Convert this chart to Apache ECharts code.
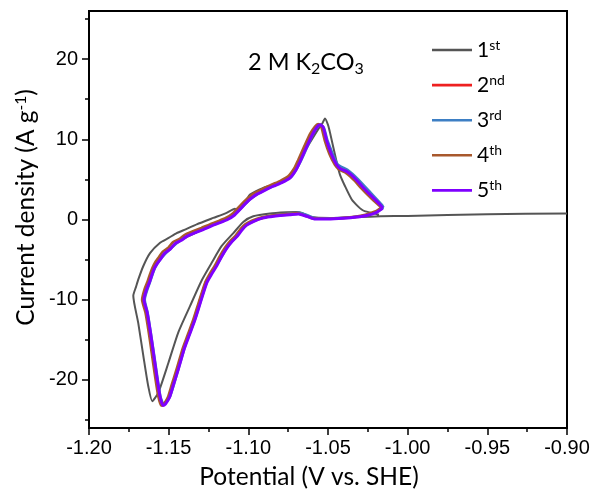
<!DOCTYPE html>
<html>
<head>
<meta charset="utf-8">
<script src="https://cdn.jsdelivr.net/npm/echarts@6/dist/echarts.min.js"></script>
<style>
  html, body { margin: 0; padding: 0; background: #fff; }
  #chart { width: 597px; height: 495px; }
</style>
</head>
<body>
<div id="chart"></div>
<script>
// Cyclic voltammograms in 2 M K2CO3: [potential (V vs. SHE), current density (A/g)]
const cycleNames = ['1st', '2nd', '3rd', '4th', '5th'];
const cycleColors = ['#555555', '#ee2020', '#3d7fc4', '#a8582c', '#7f00ff'];

const xTicks = [-1.20, -1.15, -1.10, -1.05, -1.00, -0.95, -0.90];
const yMajorTicks = [-20, -10, 0, 10, 20];
const yMinorTicks = [-25, -15, -5, 5, 15, 25];

const cycle1 = [
  [-0.900, 0.75], [-0.950, 0.65], [-1.000, 0.45], [-1.017, 0.4], [-1.030, 0.3],
  [-1.0487, 0.2], [-1.0613, 0.35], [-1.0660, 0.8], [-1.0697, 0.95], [-1.0760, 0.9],
  [-1.0864, 0.75], [-1.0969, 0.4], [-1.1032, -0.3], [-1.1094, -1.7], [-1.1167, -3.3],
  [-1.1230, -5.4], [-1.1293, -7.6], [-1.1366, -10.8], [-1.1440, -14.1], [-1.1502, -17.9],
  [-1.1565, -21.6], [-1.1603, -22.65], [-1.1628, -20.8], [-1.1659, -17.0], [-1.1691, -12.9],
  [-1.1722, -9.5], [-1.1705, -8.4], [-1.1691, -7.5], [-1.1659, -5.8], [-1.1617, -4.2],
  [-1.1554, -2.9], [-1.1500, -2.3], [-1.1450, -1.7], [-1.1390, -1.2], [-1.1324, -0.6],
  [-1.1220, 0.2], [-1.1140, 0.8], [-1.1084, 1.35], [-1.1060, 1.05], [-1.1032, 1.9],
  [-1.1010, 2.5], [-1.0990, 3.1], [-1.0906, 3.95], [-1.0830, 4.4], [-1.0760, 5.0],
  [-1.0710, 6.2], [-1.0676, 7.5], [-1.0613, 9.6], [-1.0560, 11.3], [-1.0535, 12.0],
  [-1.0519, 12.6], [-1.0500, 11.8], [-1.0487, 10.8], [-1.0445, 7.1], [-1.0425, 5.6],
  [-1.0393, 4.15], [-1.0351, 2.5], [-1.0310, 1.6], [-1.0289, 1.25], [-1.0270, 1.05],
  [-1.0220, 0.8], [-1.0180, 0.6]
];

const cycle2 = [
  [-1.0160, 1.45], [-1.0200, 0.95], [-1.0260, 0.55], [-1.0330, 0.3], [-1.0430, 0.15],
  [-1.0530, 0.1], [-1.0590, 0.1], [-1.0638, 0.45], [-1.0690, 0.75], [-1.0770, 0.65],
  [-1.0865, 0.4], [-1.0965, -0.2], [-1.1035, -1.0], [-1.1068, -2.0], [-1.1140, -3.5],
  [-1.1203, -5.7], [-1.1266, -7.8], [-1.1340, -12.4], [-1.1402, -15.8], [-1.1445, -18.6],
  [-1.1498, -22.1], [-1.1540, -23.2], [-1.1560, -22.0], [-1.1600, -16.6], [-1.1640, -11.6],
  [-1.1660, -10.0], [-1.1625, -7.8], [-1.1593, -6.0], [-1.1553, -4.8], [-1.1490, -3.6],
  [-1.1420, -2.5], [-1.1340, -1.7], [-1.1232, -0.75], [-1.1135, 0.05], [-1.1063, 1.15],
  [-1.0993, 2.55], [-1.0903, 3.65], [-1.0795, 4.65], [-1.0740, 5.25], [-1.0680, 7.25],
  [-1.0603, 10.6], [-1.0572, 11.6], [-1.0552, 11.85], [-1.0532, 11.45], [-1.0510, 9.8],
  [-1.0448, 6.8], [-1.0385, 6.05], [-1.0322, 4.95], [-1.0238, 3.1], [-1.0166, 1.65],
  [-1.0160, 1.45]
];

const cycle3 = [
  [-1.0152, 1.5], [-1.0190, 1.0], [-1.0250, 0.6], [-1.0320, 0.35], [-1.0420, 0.2],
  [-1.0520, 0.15], [-1.0585, 0.2], [-1.0630, 0.55], [-1.0680, 0.85], [-1.0760, 0.7],
  [-1.0860, 0.45], [-1.0960, -0.1], [-1.1030, -0.9], [-1.1065, -1.9], [-1.1130, -3.4],
  [-1.1195, -5.6], [-1.1258, -7.7], [-1.1332, -12.3], [-1.1395, -15.7], [-1.1438, -18.6],
  [-1.1490, -22.0], [-1.1530, -23.1], [-1.1552, -22.0], [-1.1593, -16.6], [-1.1632, -11.6],
  [-1.1650, -10.0], [-1.1617, -7.8], [-1.1585, -6.0], [-1.1545, -4.8], [-1.1480, -3.5],
  [-1.1410, -2.4], [-1.1330, -1.6], [-1.1225, -0.7], [-1.1125, 0.1], [-1.1055, 1.2],
  [-1.0985, 2.6], [-1.0895, 3.7], [-1.0785, 4.7], [-1.0730, 5.3], [-1.0670, 7.3],
  [-1.0595, 10.6], [-1.0565, 11.6], [-1.0545, 11.8], [-1.0525, 11.4], [-1.0502, 9.8],
  [-1.0440, 6.9], [-1.0378, 6.2], [-1.0315, 5.1], [-1.0230, 3.3], [-1.0160, 1.8],
  [-1.0152, 1.5]
];

const cycle4 = [
  [-1.0165, 1.5], [-1.0205, 1.0], [-1.0265, 0.6], [-1.0330, 0.35], [-1.0410, 0.2],
  [-1.0510, 0.1], [-1.0590, 0.15], [-1.0645, 0.5], [-1.0695, 0.8], [-1.0750, 0.7],
  [-1.0810, 0.6], [-1.0870, 0.45], [-1.0915, 0.3], [-1.0978, -0.15], [-1.1020, -0.6],
  [-1.1050, -1.2], [-1.1080, -2.0], [-1.1115, -2.7], [-1.1146, -3.5], [-1.1180, -4.6],
  [-1.1209, -5.7], [-1.1240, -6.7], [-1.1272, -7.9], [-1.1311, -10.3], [-1.1346, -12.5],
  [-1.1381, -14.4], [-1.1411, -16.0], [-1.1451, -18.7], [-1.1481, -20.6], [-1.1506, -22.2],
  [-1.1531, -23.0], [-1.1547, -23.2], [-1.1566, -22.0], [-1.1586, -19.5], [-1.1607, -16.6],
  [-1.1626, -14.0], [-1.1646, -11.6], [-1.1667, -10.0], [-1.1652, -8.7], [-1.1632, -7.7],
  [-1.1619, -6.9], [-1.1602, -6.0], [-1.1587, -5.4], [-1.1562, -4.7], [-1.1537, -4.0],
  [-1.1502, -3.5], [-1.1472, -2.8], [-1.1432, -2.4], [-1.1399, -1.9], [-1.1352, -1.5],
  [-1.1295, -1.05], [-1.1242, -0.6], [-1.1190, -0.2], [-1.1142, 0.2], [-1.1102, 0.7],
  [-1.1072, 1.3], [-1.1044, 1.9], [-1.1002, 2.7], [-1.0962, 3.3], [-1.0912, 3.8],
  [-1.0855, 4.35], [-1.0802, 4.8], [-1.0750, 5.4], [-1.0712, 6.4], [-1.0688, 7.4],
  [-1.0652, 9.0], [-1.0612, 10.7], [-1.0582, 11.6], [-1.0562, 11.9], [-1.0542, 11.5],
  [-1.0520, 9.8], [-1.0492, 8.2], [-1.0457, 6.8], [-1.0432, 6.25], [-1.0395, 5.9],
  [-1.0362, 5.4], [-1.0332, 4.8], [-1.0292, 3.9], [-1.0248, 3.0], [-1.0200, 2.1],
  [-1.0172, 1.6], [-1.0165, 1.5]
];

const cycle5 = [
  [-1.0157, 1.4], [-1.0195, 0.9], [-1.0257, 0.5], [-1.0320, 0.3], [-1.0400, 0.15],
  [-1.0500, 0.05], [-1.0580, 0.05], [-1.0634, 0.4], [-1.0686, 0.7], [-1.0740, 0.6],
  [-1.0801, 0.5], [-1.0860, 0.35], [-1.0906, 0.2], [-1.0969, -0.25], [-1.1010, -0.7],
  [-1.1040, -1.3], [-1.1070, -2.1], [-1.1105, -2.8], [-1.1136, -3.6], [-1.1170, -4.7],
  [-1.1199, -5.8], [-1.1230, -6.8], [-1.1261, -7.9], [-1.1300, -10.3], [-1.1335, -12.5],
  [-1.1370, -14.4], [-1.1400, -16.0], [-1.1440, -18.7], [-1.1470, -20.6], [-1.1495, -22.2],
  [-1.1520, -23.0], [-1.1536, -23.2], [-1.1555, -22.0], [-1.1575, -19.5], [-1.1596, -16.6],
  [-1.1615, -14.0], [-1.1635, -11.6], [-1.1655, -10.0], [-1.1640, -8.8], [-1.1620, -7.8],
  [-1.1607, -7.0], [-1.1590, -6.1], [-1.1575, -5.6], [-1.1550, -4.9], [-1.1525, -4.2],
  [-1.1490, -3.7], [-1.1460, -3.0], [-1.1420, -2.6], [-1.1387, -2.1], [-1.1340, -1.7],
  [-1.1283, -1.25], [-1.1230, -0.8], [-1.1178, -0.4], [-1.1130, 0.0], [-1.1090, 0.5],
  [-1.1060, 1.1], [-1.1032, 1.7], [-1.0990, 2.5], [-1.0950, 3.1], [-1.0900, 3.6],
  [-1.0843, 4.15], [-1.0790, 4.6], [-1.0738, 5.2], [-1.0700, 6.2], [-1.0676, 7.2],
  [-1.0640, 8.8], [-1.0600, 10.5], [-1.0570, 11.5], [-1.0550, 11.8], [-1.0530, 11.5],
  [-1.0508, 9.8], [-1.0480, 8.2], [-1.0445, 6.8], [-1.0420, 6.3], [-1.0383, 6.0],
  [-1.0350, 5.5], [-1.0320, 4.9], [-1.0280, 4.0], [-1.0236, 3.1], [-1.0190, 2.2],
  [-1.0163, 1.6], [-1.0157, 1.4]
];

const cycles = [cycle1, cycle2, cycle3, cycle4, cycle5];
const lineWidths = [2, 2.5, 2.5, 2.5, 3];

const TICK_FONT = '"Liberation Sans", Arial, sans-serif';
const TEXT_FONT = 'Lato, "Open Sans", sans-serif';

const chart = echarts.init(document.getElementById('chart'), null, { renderer: 'canvas' });

const option = {
  animation: false,
  backgroundColor: '#ffffff',
  grid: {
    left: 89, right: 30, top: 11, bottom: 67,
    show: true, borderColor: '#000', borderWidth: 2, backgroundColor: 'transparent'
  },
  graphic: [{
    type: 'text',
    left: 248,
    top: 50,
    style: {
      text: '{b|2 M K}{s|2}{b|CO}{s|3}',
      fill: '#000',
      rich: {
        b: { fontFamily: TEXT_FONT, fontSize: 23.5, lineHeight: 30, verticalAlign: 'middle', fill: '#000' },
        s: { fontFamily: TEXT_FONT, fontSize: 16, lineHeight: 17, verticalAlign: 'bottom', fill: '#000' }
      }
    }
  }],
  legend: {
    orient: 'vertical',
    left: 432,
    top: 38,
    padding: 0,
    itemWidth: 40,
    itemHeight: 14,
    itemGap: 12.6,
    icon: 'path://M0,0 L40,0 L40,2.6 L0,2.6 Z',
    data: cycleNames,
    formatter: name => `{n|${name.charAt(0)}}{s|${name.slice(1)}}`,
    textStyle: {
      rich: {
        n: { fontFamily: TEXT_FONT, fontSize: 21, lineHeight: 24, color: '#000', verticalAlign: 'middle' },
        s: { fontFamily: TEXT_FONT, fontSize: 14, lineHeight: 14, color: '#000', verticalAlign: 'top' }
      }
    }
  },
  xAxis: {
    type: 'value',
    min: -1.20,
    max: -0.90,
    interval: 0.05,
    name: 'Potential (V vs. SHE)',
    nameLocation: 'middle',
    nameGap: 37,
    nameTextStyle: { fontFamily: TEXT_FONT, fontSize: 24.5, color: '#000', padding: [0, 38, 0, 0] },
    axisLine: { onZero: false, lineStyle: { color: '#000', width: 2 } },
    axisTick: { show: true, inside: false, length: 7, lineStyle: { color: '#000', width: 1.5 } },
    minorTick: { show: true, splitNumber: 2, length: 4, lineStyle: { color: '#000', width: 1.5 } },
    axisLabel: {
      fontFamily: TICK_FONT, fontSize: 20, color: '#000', margin: 10,
      formatter: v => xTicks.some(t => Math.abs(t - v) < 1e-6) ? v.toFixed(2) : ''
    },
    splitLine: { show: false },
    minorSplitLine: { show: false }
  },
  yAxis: [{
    type: 'value',
    min: -26,
    max: 26,
    position: 'left',
    name: 'Current density (A g{sup|-1})',
    nameLocation: 'middle',
    nameGap: 46,
    nameRotate: 90,
    nameTextStyle: {
      fontFamily: TEXT_FONT, fontSize: 24.5, color: '#000', padding: [0, 0, 0, 24],
      rich: { sup: { fontFamily: TEXT_FONT, fontSize: 15.5, verticalAlign: 'top', lineHeight: 15, color: '#000' } }
    },
    axisLine: { onZero: false, lineStyle: { color: '#000', width: 2 } },
    axisTick: { show: true, inside: false, length: 7, customValues: yMajorTicks, lineStyle: { color: '#000', width: 1.5 } },
    axisLabel: { fontFamily: TICK_FONT, fontSize: 20, color: '#000', margin: 11, customValues: yMajorTicks },
    splitLine: { show: false }
  }, {
    type: 'value',
    min: -26,
    max: 26,
    position: 'left',
    axisLine: { show: false },
    axisTick: { show: true, inside: false, length: 4, customValues: yMinorTicks, lineStyle: { color: '#000', width: 1.5 } },
    axisLabel: { show: false, customValues: yMinorTicks },
    splitLine: { show: false }
  }],
  series: cycles.map((data, i) => ({
    name: cycleNames[i],
    type: 'line',
    xAxisIndex: 0,
    yAxisIndex: 0,
    data: data,
    showSymbol: false,
    symbol: 'none',
    smooth: 0.2,
    color: cycleColors[i],
    lineStyle: { color: cycleColors[i], width: lineWidths[i] },
    z: 2 + i
  }))
};

chart.setOption(option);
</script>
</body>
</html>
